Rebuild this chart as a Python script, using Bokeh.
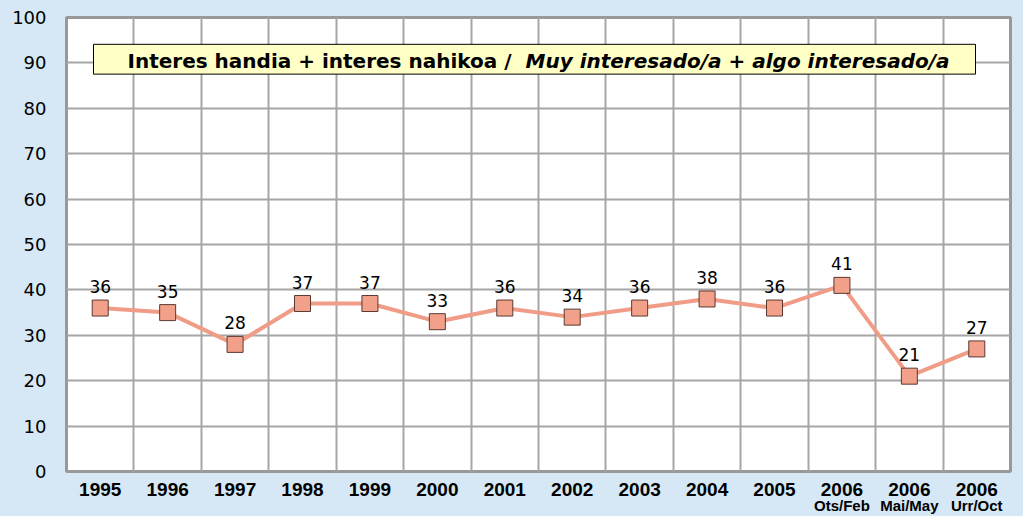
from bokeh.plotting import figure
from bokeh.models import (FactorRange, Range1d, FixedTicker, SingleIntervalTicker,
                          ColumnDataSource, LabelSet, Label, BoxAnnotation,
                          CustomJSTickFormatter, CategoricalAxis)
from bokeh.core.properties import value
from bokeh.embed import file_html
from bokeh.resources import INLINE

# ---- data ----
categories = ["1995", "1996", "1997", "1998", "1999", "2000", "2001", "2002",
              "2003", "2004", "2005", "2006\nOts/Feb", "2006\nMai/May", "2006\nUrr/Oct"]
values = [36, 35, 28, 37, 37, 33, 36, 34, 36, 38, 36, 41, 21, 27]
title_bold = "Interes handia + interes nahikoa /"
title_italic = "Muy interesado/a + algo interesado/a"

BG = "#d6e8f5"
LINE = "#f09c86"
FILL = "#f2a08a"
EDGE = "#5a3a30"
GRID = "#a6a6a6"

W, H = 1023, 516
FL, FR, FT, FB = 66, 1010, 17, 474   # frame edges in page pixels


def xd(px):
    return (px - FL) / (FR - FL) * len(categories)


def yd(py):
    return (FB - py) / (FB - FT) * 100.0


p = figure(width=W, height=H, output_backend="svg", toolbar_location=None,
           x_range=FactorRange(factors=categories), y_range=Range1d(0, 100),
           min_border_left=FL, min_border_right=W - FR, min_border_top=FT,
           min_border_bottom=H - FB)
p.background_fill_color = "white"
p.border_fill_color = BG
p.outline_line_color = "#999999"
p.outline_line_width = 3


def style_x(ax, size, standoff):
    ax.axis_line_color = None
    ax.major_tick_line_color = None
    ax.minor_tick_line_color = None
    ax.major_tick_out = 0
    ax.major_tick_in = 0
    ax.major_label_standoff = standoff
    ax.major_label_text_font = "Liberation Sans"
    ax.major_label_text_font_style = "bold"
    ax.major_label_text_font_size = size
    ax.major_label_text_color = "black"


# first line of every category label
style_x(p.xaxis[0], "19px", 11)
p.xaxis[0].formatter = CustomJSTickFormatter(code='return String(tick).split("\\n")[0];')
# second line (month) of the 2006 labels, smaller
ax2 = CategoricalAxis()
style_x(ax2, "15px", -2)
ax2.formatter = CustomJSTickFormatter(
    code='var s = String(tick).split("\\n"); return s.length > 1 ? s[1] : "";')
p.add_layout(ax2, "below")

p.yaxis.ticker = SingleIntervalTicker(interval=10)
p.yaxis.axis_line_color = None
p.yaxis.major_tick_line_color = None
p.yaxis.minor_tick_line_color = None
p.yaxis.major_label_text_font = "DejaVu Sans"
p.yaxis.major_label_text_font_size = "18px"
p.yaxis.major_label_text_color = "black"
p.yaxis.major_label_standoff = 14

p.ygrid.ticker = SingleIntervalTicker(interval=10)
p.ygrid.grid_line_color = GRID
p.ygrid.grid_line_width = 2
p.xgrid.ticker = FixedTicker(ticks=list(range(1, len(categories))))
p.xgrid.grid_line_color = GRID
p.xgrid.grid_line_width = 2

src = ColumnDataSource(dict(x=categories, y=values, t=[str(v) for v in values]))
p.line("x", "y", source=src, line_color=LINE, line_width=4)
p.scatter("x", "y", source=src, marker="square", size=16, fill_color=FILL,
          line_color=EDGE, line_width=1)
p.add_layout(LabelSet(x="x", y="y", text="t", source=src, y_offset=15,
                      text_align="center", text_baseline="alphabetic",
                      text_font=value("DejaVu Sans"), text_font_size="17px",
                      text_color="black"))

# title box
p.add_layout(BoxAnnotation(left=xd(93), right=xd(975), bottom=yd(74), top=yd(44),
                           fill_color="#ffffc6", fill_alpha=1.0,
                           line_color="black", line_alpha=1.0, line_width=1,
                           level="annotation"))
p.add_layout(Label(x=xd(127), y=yd(61), text=title_bold, text_font="DejaVu Sans",
                   text_font_size="20px", text_font_style="bold",
                   text_baseline="alphabetic", text_color="black"))
p.add_layout(Label(x=xd(525), y=yd(61), text=title_italic, text_font="DejaVu Sans",
                   text_font_size="20px", text_font_style="bold italic",
                   text_baseline="alphabetic", text_color="black"))

html = file_html(p, INLINE)
html = html.replace("</head>", "<style>html,body{background:%s;}</style></head>" % BG, 1)
open("out.html", "w").write(html)
